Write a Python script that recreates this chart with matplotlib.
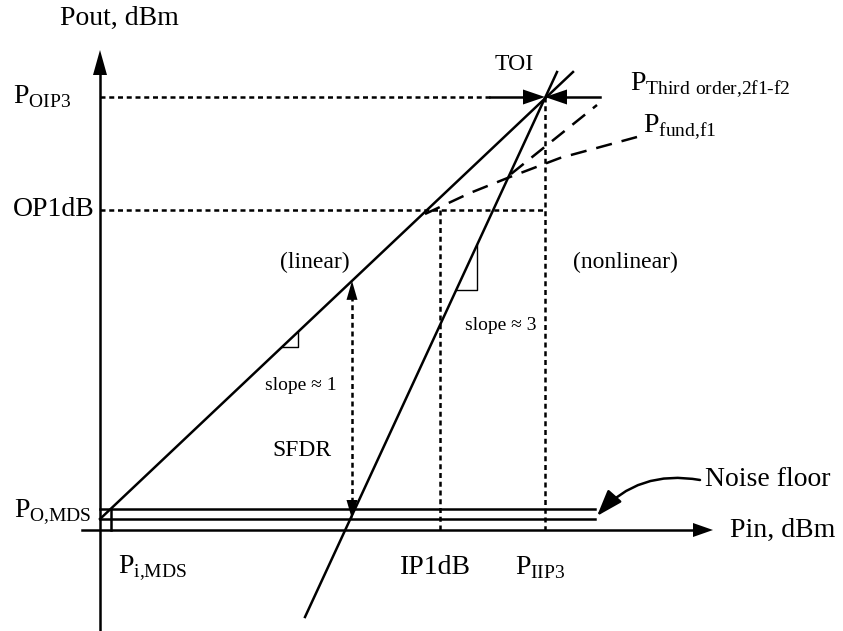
import numpy as np
import matplotlib.pyplot as plt
from matplotlib.patches import FancyArrowPatch

plt.rcParams["font.family"] = "Liberation Serif"
plt.rcParams["mathtext.fontset"] = "custom"
plt.rcParams["mathtext.rm"] = "Liberation Serif"

# ========================================
# sketch geometry (screen units, y grows downward)
# ========================================
y_axis_x = 100
x_axis_y = 530
y_axis_span = (630, 50)
x_axis_span = (82, 713)
noise_lines_y = [509, 519]
noise_end_x = 595
mds_box_x = 111

toi = (545, 97)
op1db_y = 210
ip1db_x = 440
sfdr_x = 352

# fundamental (slope ~ 1) and third order (slope ~ 3) lines
fund_line_x = [100, 573]
fund_line_y = [519, 72]
third_line_x = [305, 557]
third_line_y = [617, 72]

# compressed responses
fund_comp_x = [425, 470, 510, 560, 637]
fund_comp_y = [214, 193, 177, 158, 137]
third_comp_x = [511, 597]
third_comp_y = [174, 105]

solid_lw = 1.8
dotted = (0, (2.0, 1.5))
dashed = (0, (6.5, 4.0))


def head(ax, tip, direction, length=20, width=14):
    # filled triangular arrow head
    d = np.array(direction, float)
    d /= np.hypot(*d)
    n = np.array([-d[1], d[0]])
    tip = np.array(tip, float)
    base = tip - d * length
    pts = [tip, base + n * width / 2, base - n * width / 2]
    ax.fill(*zip(*pts), color="k", lw=0)


fig = plt.figure(figsize=(8.43, 6.31), dpi=100)
ax = fig.add_axes([0, 0, 1, 1])
ax.set_xlim(0, 843)
ax.set_ylim(631, 0)
ax.axis("off")

# axes with arrow heads
ax.plot([y_axis_x, y_axis_x], [y_axis_span[0], y_axis_span[1] + 20], color="k", lw=solid_lw)
head(ax, (y_axis_x, y_axis_span[1]), (0, -1), 25, 14)
ax.plot([x_axis_span[0], x_axis_span[1] - 15], [x_axis_y, x_axis_y], color="k", lw=solid_lw)
head(ax, (x_axis_span[1], x_axis_y), (1, 0), 20, 14)

# noise floor band
for ny in noise_lines_y:
    ax.plot([y_axis_x, noise_end_x], [ny, ny], color="k", lw=solid_lw)
ax.plot([mds_box_x, mds_box_x], [noise_lines_y[0], x_axis_y], color="k", lw=solid_lw)

# fundamental and third-order lines
ax.plot(fund_line_x, fund_line_y, color="k", lw=solid_lw)
ax.plot(third_line_x, third_line_y, color="k", lw=solid_lw)
ax.plot(fund_comp_x, fund_comp_y, color="k", lw=solid_lw, ls=dashed)
ax.plot(third_comp_x, third_comp_y, color="k", lw=solid_lw, ls=dashed)

# dotted guide lines
ax.plot([y_axis_x, 490], [toi[1], toi[1]], color="k", lw=solid_lw, ls=dotted)
ax.plot([y_axis_x, toi[0]], [op1db_y, op1db_y], color="k", lw=solid_lw, ls=dotted)
ax.plot([ip1db_x, ip1db_x], [op1db_y, x_axis_y], color="k", lw=solid_lw, ls=dotted)
ax.plot([toi[0], toi[0]], [toi[1], x_axis_y], color="k", lw=solid_lw, ls=dotted)

# TOI arrows from both sides
ax.plot([490, toi[0] - 18], [toi[1], toi[1]], color="k", lw=solid_lw)
head(ax, toi, (1, 0), 22, 15)
ax.plot([600, toi[0] + 18], [toi[1], toi[1]], color="k", lw=solid_lw)
head(ax, toi, (-1, 0), 22, 15)

# SFDR double arrow
fund_slope = (fund_line_y[1] - fund_line_y[0]) / (fund_line_x[1] - fund_line_x[0])
sfdr_top = fund_line_y[0] + fund_slope * (sfdr_x - fund_line_x[0])
sfdr_bot = noise_lines_y[1]
ax.plot([sfdr_x, sfdr_x], [sfdr_top + 15, sfdr_bot - 15], color="k", lw=solid_lw, ls=dotted)
head(ax, (sfdr_x, sfdr_top), (0, -1), 19, 11)
head(ax, (sfdr_x, sfdr_bot), (0, 1), 19, 11)

# slope triangles
third_slope = (third_line_y[1] - third_line_y[0]) / (third_line_x[1] - third_line_x[0])
tx0, tx1 = 282, 298
ty0 = fund_line_y[0] + fund_slope * (tx0 - fund_line_x[0])
ty1 = fund_line_y[0] + fund_slope * (tx1 - fund_line_x[0])
ax.plot([tx0, tx1, tx1], [ty0, ty0, ty1], color="k", lw=1.0)
ux0, ux1 = 456, 477
uy0 = third_line_y[0] + third_slope * (ux0 - third_line_x[0])
uy1 = third_line_y[0] + third_slope * (ux1 - third_line_x[0])
ax.plot([ux0, ux1, ux1], [uy0, uy0, uy1], color="k", lw=1.0)

# noise floor pointer
ax.add_patch(FancyArrowPatch((700, 480), (597, 516), connectionstyle="arc3,rad=0.28",
                             arrowstyle="-|>,head_length=1.15,head_width=0.4",
                             mutation_scale=14, color="k", lw=solid_lw,
                             shrinkA=0, shrinkB=0))

# labels
big = 20
mid = 17
ax.text(60, 18, "Pout, dBm", fontsize=big, va="center")
ax.text(730, 530, "Pin, dBm", fontsize=big, va="center")
ax.text(13, 97, r"P$_\mathrm{OIP3}$", fontsize=big, va="center")
ax.text(13, 210, "OP1dB", fontsize=big, va="center")
ax.text(14, 512, r"P$_\mathrm{O{,}MDS}$", fontsize=big, va="center")
ax.text(118, 568, r"P$_\mathrm{i{,}MDS}$", fontsize=big, va="center")
ax.text(400, 568, "IP1dB", fontsize=big, va="center")
ax.text(515, 568, r"P$_\mathrm{IIP3}$", fontsize=big, va="center")
ax.text(705, 480, "Noise floor", fontsize=big, va="center")
ax.text(514, 65, "TOI", fontsize=mid, ha="center", va="center")
ax.text(630, 85, r"P$_\mathrm{Third\ order{,}2f1\text{-}f2}$", fontsize=big, va="center")
ax.text(643, 127, r"P$_\mathrm{fund{,}f1}$", fontsize=big, va="center")
ax.text(315, 262, "(linear)", fontsize=mid, ha="center", va="center")
ax.text(625, 262, "(nonlinear)", fontsize=mid, ha="center", va="center")
ax.text(465, 325, "slope ≈ 3", fontsize=14, va="center")
ax.text(265, 385, "slope ≈ 1", fontsize=14, va="center")
ax.text(272, 450, "SFDR", fontsize=mid, va="center")

fig.savefig("out.png", dpi=100)
